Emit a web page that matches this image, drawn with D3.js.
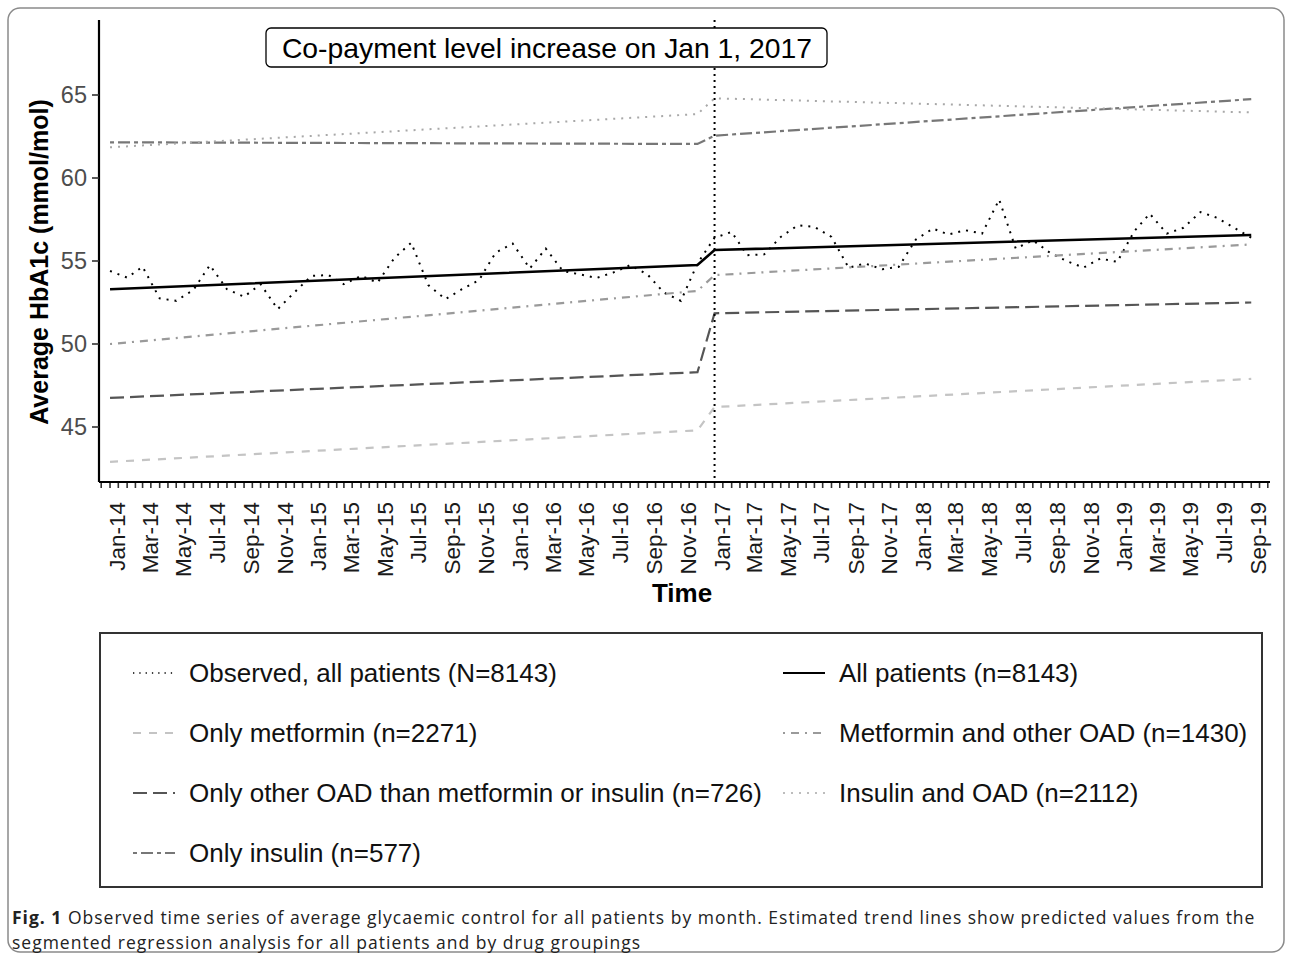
<!DOCTYPE html>
<html>
<head>
<meta charset="utf-8">
<script src="https://cdn.jsdelivr.net/npm/d3@7"></script>
<style>
  body { margin: 0; background: #fff; }
</style>
</head>
<body>
<div id="chart"></div>
<script>
// tick labels on the x axis (every second month)
var tickLabels = ["Jan-14","Mar-14","May-14","Jul-14","Sep-14","Nov-14",
  "Jan-15","Mar-15","May-15","Jul-15","Sep-15","Nov-15",
  "Jan-16","Mar-16","May-16","Jul-16","Sep-16","Nov-16",
  "Jan-17","Mar-17","May-17","Jul-17","Sep-17","Nov-17",
  "Jan-18","Mar-18","May-18","Jul-18","Sep-18","Nov-18",
  "Jan-19","Mar-19","May-19","Jul-19","Sep-19"];
var yTicks = [45, 50, 55, 60, 65];

// observed monthly average, Jan-14 .. Sep-19
var firstMonth = "Jan-14";
var observed = [54.4, 54.0, 54.65, 52.75, 52.6, 53.25, 54.75, 53.3, 52.85, 53.6, 52.1, 53.1,
  54.1, 54.15, 53.6, 54.1, 53.7, 55.2, 56.1, 53.55, 52.7, 53.3, 53.85, 55.5,
  56.05, 54.55, 55.75, 54.4, 54.2, 53.98, 54.3, 54.75, 54.2, 53.1, 52.6, 54.85,
  56.4, 56.75, 55.35, 55.4, 56.45, 57.15, 57.05, 56.45, 54.6, 54.85, 54.5, 54.65,
  56.3, 56.95, 56.6, 56.85, 56.65, 58.7, 55.75, 56.25, 55.5, 55.0, 54.6, 55.15,
  54.95, 56.8, 57.85, 56.65, 57.0, 57.95, 57.6, 57.0, 56.4];

// segmented regression trend lines: values at these months
var trendMonths = ["Jan-14", "Dec-16", "Jan-17", "Sep-19"];
var allPatients    = [53.3, 54.76, 55.66, 56.57];
var onlyMetformin  = [42.9, 44.8, 46.2, 47.9];
var otherOAD       = [46.75, 48.3, 51.85, 52.5];
var onlyInsulin    = [62.15, 62.05, 62.55, 64.75];
var metforminOAD   = [50.0, 53.2, 54.15, 56.0];
var insulinOAD     = [61.85, 63.85, 64.8, 63.95];
var interventionMonth = "Jan-17";

var parse = d3.timeParse("%b-%y");
var sans = "'Liberation Sans', Arial, sans-serif";

var series = [
  {name: "Observed, all patients (N=8143)", dash: "2,6", color: "#000", w: 2, obs: true},
  {name: "Only metformin (n=2271)", values: onlyMetformin, dash: "8,8", color: "#c4c4c4", w: 2.2},
  {name: "Only other OAD than metformin or insulin (n=726)", values: otherOAD, dash: "14,6", color: "#555", w: 2.2},
  {name: "Only insulin (n=577)", values: onlyInsulin, dash: "4,4,12,4", color: "#777", w: 2.2},
  {name: "All patients (n=8143)", values: allPatients, dash: null, color: "#000", w: 2.6},
  {name: "Metformin and other OAD (n=1430)", values: metforminOAD, dash: "2,6,8,6", color: "#9a9a9a", w: 2.2},
  {name: "Insulin and OAD (n=2112)", values: insulinOAD, dash: "2,6", color: "#a8a8a8", w: 2}
];

var W = 1292, H = 960;
var svg = d3.select("#chart").append("svg").attr("width", W).attr("height", H)
  .style("font-family", sans);

// outer figure frame
svg.append("rect").attr("x", 8).attr("y", 8).attr("width", W - 16).attr("height", H - 16)
   .attr("rx", 12).attr("fill", "none").attr("stroke", "#8a8a8a").attr("stroke-width", 1.5);

var panel = {left: 99, right: 1270, top: 20, bottom: 482};

var x = d3.scaleTime()
  .domain([new Date(2013, 11, 12), new Date(2019, 9, 5)])
  .range([panel.left, panel.right]);
var y = d3.scaleLinear()
  .domain([45, 65])
  .range([427, 95]);

// half-month ticks
var minor = [];
d3.timeMonth.range(new Date(2013, 11, 1), new Date(2019, 10, 1)).forEach(function(d) {
  minor.push(d);
  minor.push(d3.timeDay.offset(d, 15));
});
minor = minor.filter(function(d) { return d >= x.domain()[0] && d <= x.domain()[1]; });

var gx = svg.append("g").attr("transform", "translate(0," + panel.bottom + ")");
gx.selectAll("line.minor").data(minor).enter().append("line")
  .attr("x1", function(d) { return x(d); }).attr("x2", function(d) { return x(d); })
  .attr("y1", 0).attr("y2", 6).attr("stroke", "#333").attr("stroke-width", 1.6);
gx.selectAll("text").data(tickLabels).enter().append("text")
  .attr("transform", function(d) { return "translate(" + (x(parse(d)) + 15) + ",20) rotate(-90)"; })
  .attr("text-anchor", "end")
  .attr("font-size", 22.5).attr("fill", "#1a1a1a")
  .text(function(d) { return d; });
gx.append("line").attr("x1", panel.left).attr("x2", panel.right).attr("y1", 0).attr("y2", 0)
  .attr("stroke", "#000").attr("stroke-width", 2.2);

var gy = svg.append("g").attr("transform", "translate(" + panel.left + ",0)");
gy.append("line").attr("x1", 0).attr("x2", 0).attr("y1", panel.top).attr("y2", panel.bottom)
  .attr("stroke", "#000").attr("stroke-width", 2.2);
gy.selectAll("line.t").data(yTicks).enter().append("line")
  .attr("x1", -7).attr("x2", 0)
  .attr("y1", function(d) { return y(d); }).attr("y2", function(d) { return y(d); })
  .attr("stroke", "#333").attr("stroke-width", 1.6);
gy.selectAll("text").data(yTicks).enter().append("text")
  .attr("x", -12).attr("y", function(d) { return y(d) + 8; })
  .attr("text-anchor", "end").attr("font-size", 23.5).attr("fill", "#4d4d4d")
  .text(function(d) { return d; });

// axis titles
svg.append("text")
  .attr("transform", "translate(48,262) rotate(-90)")
  .attr("text-anchor", "middle").attr("font-size", 25).attr("font-weight", "bold")
  .text("Average HbA1c (mmol/mol)");
svg.append("text").attr("x", 682).attr("y", 602)
  .attr("text-anchor", "middle").attr("font-size", 26).attr("font-weight", "bold")
  .text("Time");

// lines
var line = d3.line().x(function(d) { return x(d.date); }).y(function(d) { return y(d.v); });
var startDate = parse(firstMonth);
var obsData = observed.map(function(v, i) { return {date: d3.timeMonth.offset(startDate, i), v: v}; });

series.forEach(function(s) {
  var data = s.obs ? obsData : s.values.map(function(v, i) { return {date: parse(trendMonths[i]), v: v}; });
  svg.append("path").datum(data)
    .attr("d", line)
    .attr("fill", "none")
    .attr("stroke", s.color)
    .attr("stroke-width", s.w)
    .attr("stroke-dasharray", s.dash);
});

// intervention line + label
var xi = x(parse(interventionMonth));
svg.append("line").attr("x1", xi).attr("x2", xi).attr("y1", panel.top).attr("y2", panel.bottom)
  .attr("stroke", "#000").attr("stroke-width", 2).attr("stroke-dasharray", "2,4");
svg.append("rect").attr("x", 266).attr("y", 28).attr("width", 561).attr("height", 39)
  .attr("rx", 5).attr("fill", "#fff").attr("stroke", "#000").attr("stroke-width", 1.3);
svg.append("text").attr("x", 547).attr("y", 57.5).attr("text-anchor", "middle")
  .attr("font-size", 28.3).attr("fill", "#000")
  .text("Co-payment level increase on Jan 1, 2017");

// legend
svg.append("rect").attr("x", 100).attr("y", 633).attr("width", 1162).attr("height", 254)
  .attr("fill", "none").attr("stroke", "#333").attr("stroke-width", 2);
var legPos = [[133, 673], [133, 733], [133, 793], [133, 853], [783, 673], [783, 733], [783, 793]];
series.forEach(function(s, i) {
  var p = legPos[i];
  svg.append("line").attr("x1", p[0]).attr("x2", p[0] + 42).attr("y1", p[1]).attr("y2", p[1])
    .attr("stroke", s.color).attr("stroke-width", s.obs ? 1.3 : s.w * 0.8)
    .attr("stroke-dasharray", s.obs ? "1.3,5" : s.dash);
  svg.append("text").attr("x", p[0] + 56).attr("y", p[1] + 9)
    .attr("font-size", 26).attr("fill", "#111").text(s.name);
});

// caption
var capFont = "'Open Sans', sans-serif";
var cap = svg.append("text").attr("x", 12).attr("y", 924)
  .style("font-family", capFont).style("letter-spacing", "1px")
  .attr("font-size", 17.5).attr("fill", "#222");
cap.append("tspan").attr("font-weight", "bold").text("Fig. 1");
cap.append("tspan").text(" Observed time series of average glycaemic control for all patients by month. Estimated trend lines show predicted values from the");
svg.append("text").attr("x", 12).attr("y", 949)
  .style("font-family", capFont).style("letter-spacing", "1px")
  .attr("font-size", 17.5).attr("fill", "#222")
  .text("segmented regression analysis for all patients and by drug groupings");
</script>
</body>
</html>
